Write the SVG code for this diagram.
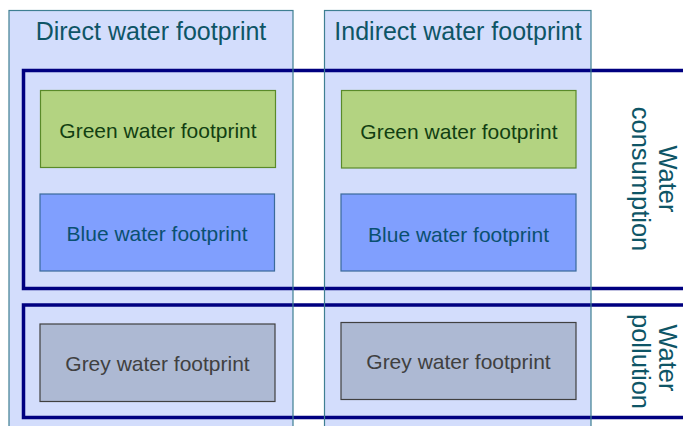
<svg xmlns="http://www.w3.org/2000/svg" width="683" height="426" viewBox="0 0 683 426">
<style>
.colfill{fill:#d3ddfc;stroke:none}
.coledge{fill:none;stroke:#3f7f92;stroke-width:1.2}
.band{fill:none;stroke:#000080;stroke-width:3.5}
.title{font-family:"Liberation Sans",Arial,sans-serif;font-size:25px;fill:#0e5566;text-anchor:middle}
.side{font-family:"Liberation Sans",Arial,sans-serif;font-size:25.5px;fill:#0e5566;text-anchor:middle}
.lbl{font-family:"Liberation Sans",Arial,sans-serif;font-size:21px;text-anchor:middle}
.green rect{fill:#b3d381;stroke:#5a8a2a;stroke-width:1.2}
.green text{fill:#123f12}
.blue rect{fill:#809ffe;stroke:#3a6a9a;stroke-width:1.2}
.blue text{fill:#0a5070}
.grey rect{fill:#adb9d3;stroke:#404040;stroke-width:1.2}
.grey text{fill:#404040}
</style>
<rect width="683" height="426" fill="#ffffff"/>
<g id="col-direct-fill"><rect class="colfill" x="9" y="10.5" width="284" height="430"/></g>
<g id="col-indirect-fill"><rect class="colfill" x="324.5" y="10.5" width="266.5" height="430"/></g>
<g id="band-consumption">
<rect class="band" x="23.5" y="70.5" width="680" height="218"/>
<text class="side" transform="translate(659,179) rotate(90)">Water</text>
<text class="side" transform="translate(632,179) rotate(90)">consumption</text>
</g>
<g id="band-pollution">
<rect class="band" x="23.5" y="305" width="680" height="112.5"/>
<text class="side" transform="translate(659,358) rotate(90)">Water</text>
<text class="side" transform="translate(632,361.5) rotate(90)">pollution</text>
</g>
<g id="col-direct">
<rect class="coledge" x="9" y="10.5" width="284" height="430"/>
<text class="title" x="151" y="40">Direct water footprint</text>
</g>
<g id="col-indirect">
<rect class="coledge" x="324.5" y="10.5" width="266.5" height="430"/>
<text class="title" x="458" y="40">Indirect water footprint</text>
</g>
<g id="green-direct" class="green">
<rect x="40.5" y="90.5" width="235" height="77"/>
<text class="lbl" x="158" y="137.5">Green water footprint</text>
</g>
<g id="blue-direct" class="blue">
<rect x="40" y="194" width="234.5" height="77"/>
<text class="lbl" x="157" y="241">Blue water footprint</text>
</g>
<g id="grey-direct" class="grey">
<rect x="40" y="324" width="235" height="77.5"/>
<text class="lbl" x="157.5" y="371">Grey water footprint</text>
</g>
<g id="green-indirect" class="green">
<rect x="341.5" y="90.5" width="234.5" height="77.5"/>
<text class="lbl" x="459" y="138.5">Green water footprint</text>
</g>
<g id="blue-indirect" class="blue">
<rect x="341" y="194" width="235" height="77"/>
<text class="lbl" x="458.5" y="241.5">Blue water footprint</text>
</g>
<g id="grey-indirect" class="grey">
<rect x="341" y="322.5" width="235" height="77"/>
<text class="lbl" x="458.5" y="369">Grey water footprint</text>
</g>
<g id="connectors"></g>
</svg>
